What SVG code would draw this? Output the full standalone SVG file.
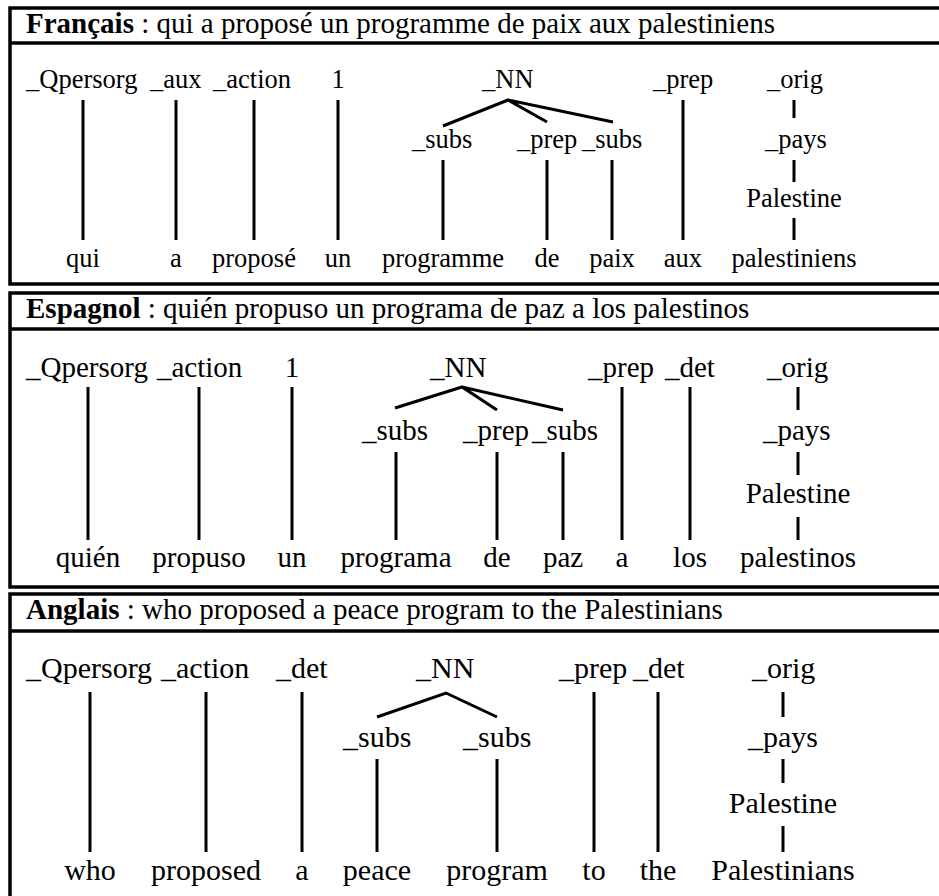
<svg xmlns="http://www.w3.org/2000/svg" width="939" height="896" viewBox="0 0 939 896">
  <style>
    text { font-family: 'Liberation Serif', 'Times New Roman', Times, serif; fill: #000; }
    .hd { font-size: 29px; }
    .hd tspan.b { font-weight: bold; }
    .p1 { font-size: 26.5px; }
    .p2 { font-size: 29px; }
    .p3 { font-size: 30px; }
    .m { text-anchor: middle; }
    .frame { fill: none; stroke: #000; stroke-width: 3.5; }
    .sep { stroke: #000; stroke-width: 3.5; }
    .edge { stroke: #000; stroke-width: 3; fill: none; stroke-linecap: butt; }
  </style>
  <rect width="939" height="896" fill="#fff"/>

  <!-- panel frames -->
  <g id="frames">
    <rect class="frame" x="10" y="8" width="960" height="276"/>
    <line class="sep" x1="10" y1="43" x2="939" y2="43"/>
    <rect class="frame" x="10" y="293" width="960" height="294"/>
    <line class="sep" x1="10" y1="329" x2="939" y2="329"/>
    <rect class="frame" x="10" y="594" width="960" height="330"/>
    <line class="sep" x1="10" y1="631" x2="939" y2="631"/>
  </g>

  <!-- headers -->
  <g id="headers">
    <text class="hd" x="26" y="33"><tspan class="b">Français</tspan> : qui a proposé un programme de paix aux palestiniens</text>
    <text class="hd" x="26" y="318"><tspan class="b">Espagnol</tspan> : quién propuso un programa de paz a los palestinos</text>
    <text class="hd" x="26" y="619"><tspan class="b">Anglais</tspan> : who proposed a peace program to the Palestinians</text>
  </g>

  <!-- connectors -->
  <g id="connectors" class="edge">
    <!-- French -->
    <path d="M83 100V240M176 100V240M254 100V240M338 100V240"/>
    <path d="M443 126L508 100L547 122M508 100L613 122"/>
    <path d="M443 160V240M547 160V240M612 160V240M683 100V240"/>
    <path d="M794 100V118M794 160V182M794 218V240"/>
    <!-- Spanish -->
    <path d="M88 387V540M199 387V540M292 387V540"/>
    <path d="M395 408L462 387L497 410M462 387L563 410"/>
    <path d="M396 452V540M497 452V540M563 452V540M622 387V540M690 387V540"/>
    <path d="M798 387V410M798 452V475M798 517V540"/>
    <!-- English -->
    <path d="M90 692V852M206 692V852M302 692V852"/>
    <path d="M377 717L446 693L497 717"/>
    <path d="M377 759V852M497 759V852M594 692V852M658 692V852"/>
    <path d="M783 692V717M783 759V783M783 826V852"/>
  </g>

  <!-- French nodes -->
  <g id="fr-nodes" class="p1">
    <g id="fr-qpersorg"><text x="26" y="88">_Qpersorg</text><text class="m" x="83" y="267">qui</text></g>
    <g id="fr-aux"><text x="150" y="88">_aux</text><text class="m" x="176" y="267">a</text></g>
    <g id="fr-action"><text x="213" y="88">_action</text><text class="m" x="254" y="267">proposé</text></g>
    <g id="fr-1"><text class="m" x="338" y="88">1</text><text class="m" x="338" y="267">un</text></g>
    <g id="fr-nn"><text x="482" y="88">_NN</text></g>
    <g id="fr-subs1"><text x="412" y="148">_subs</text><text class="m" x="443" y="267">programme</text></g>
    <g id="fr-prep1"><text x="517" y="148">_prep</text><text class="m" x="547" y="267">de</text></g>
    <g id="fr-subs2"><text x="582" y="148">_subs</text><text class="m" x="612" y="267">paix</text></g>
    <g id="fr-prep2"><text x="653" y="88">_prep</text><text class="m" x="683" y="267">aux</text></g>
    <g id="fr-orig"><text x="767" y="88">_orig</text><text x="765" y="148">_pays</text><text class="m" x="794" y="207">Palestine</text><text class="m" x="794" y="267">palestiniens</text></g>
  </g>

  <!-- Spanish nodes -->
  <g id="es-nodes" class="p2">
    <g id="es-qpersorg"><text x="26" y="377">_Qpersorg</text><text class="m" x="88" y="567">quién</text></g>
    <g id="es-action"><text x="157" y="377">_action</text><text class="m" x="199" y="567">propuso</text></g>
    <g id="es-1"><text class="m" x="292" y="377">1</text><text class="m" x="292" y="567">un</text></g>
    <g id="es-nn"><text x="430" y="377">_NN</text></g>
    <g id="es-subs1"><text x="362" y="440">_subs</text><text class="m" x="396" y="567">programa</text></g>
    <g id="es-prep1"><text x="463" y="440">_prep</text><text class="m" x="497" y="567">de</text></g>
    <g id="es-subs2"><text x="532" y="440">_subs</text><text class="m" x="563" y="567">paz</text></g>
    <g id="es-prep2"><text x="588" y="377">_prep</text><text class="m" x="622" y="567">a</text></g>
    <g id="es-det"><text x="665" y="377">_det</text><text class="m" x="690" y="567">los</text></g>
    <g id="es-orig"><text x="767" y="377">_orig</text><text x="763" y="440">_pays</text><text class="m" x="798" y="503">Palestine</text><text class="m" x="798" y="567">palestinos</text></g>
  </g>

  <!-- English nodes -->
  <g id="en-nodes" class="p3">
    <g id="en-qpersorg"><text x="26" y="678">_Qpersorg</text><text class="m" x="90" y="880">who</text></g>
    <g id="en-action"><text x="161" y="678">_action</text><text class="m" x="206" y="880">proposed</text></g>
    <g id="en-det1"><text x="276" y="678">_det</text><text class="m" x="302" y="880">a</text></g>
    <g id="en-nn"><text x="416" y="678">_NN</text></g>
    <g id="en-subs1"><text x="343" y="747">_subs</text><text class="m" x="377" y="880">peace</text></g>
    <g id="en-subs2"><text x="463" y="747">_subs</text><text class="m" x="497" y="880">program</text></g>
    <g id="en-prep"><text x="559" y="678">_prep</text><text class="m" x="594" y="880">to</text></g>
    <g id="en-det2"><text x="633" y="678">_det</text><text class="m" x="658" y="880">the</text></g>
    <g id="en-orig"><text x="752" y="678">_orig</text><text x="748" y="747">_pays</text><text class="m" x="783" y="813">Palestine</text><text class="m" x="783" y="880">Palestinians</text></g>
  </g>
</svg>
